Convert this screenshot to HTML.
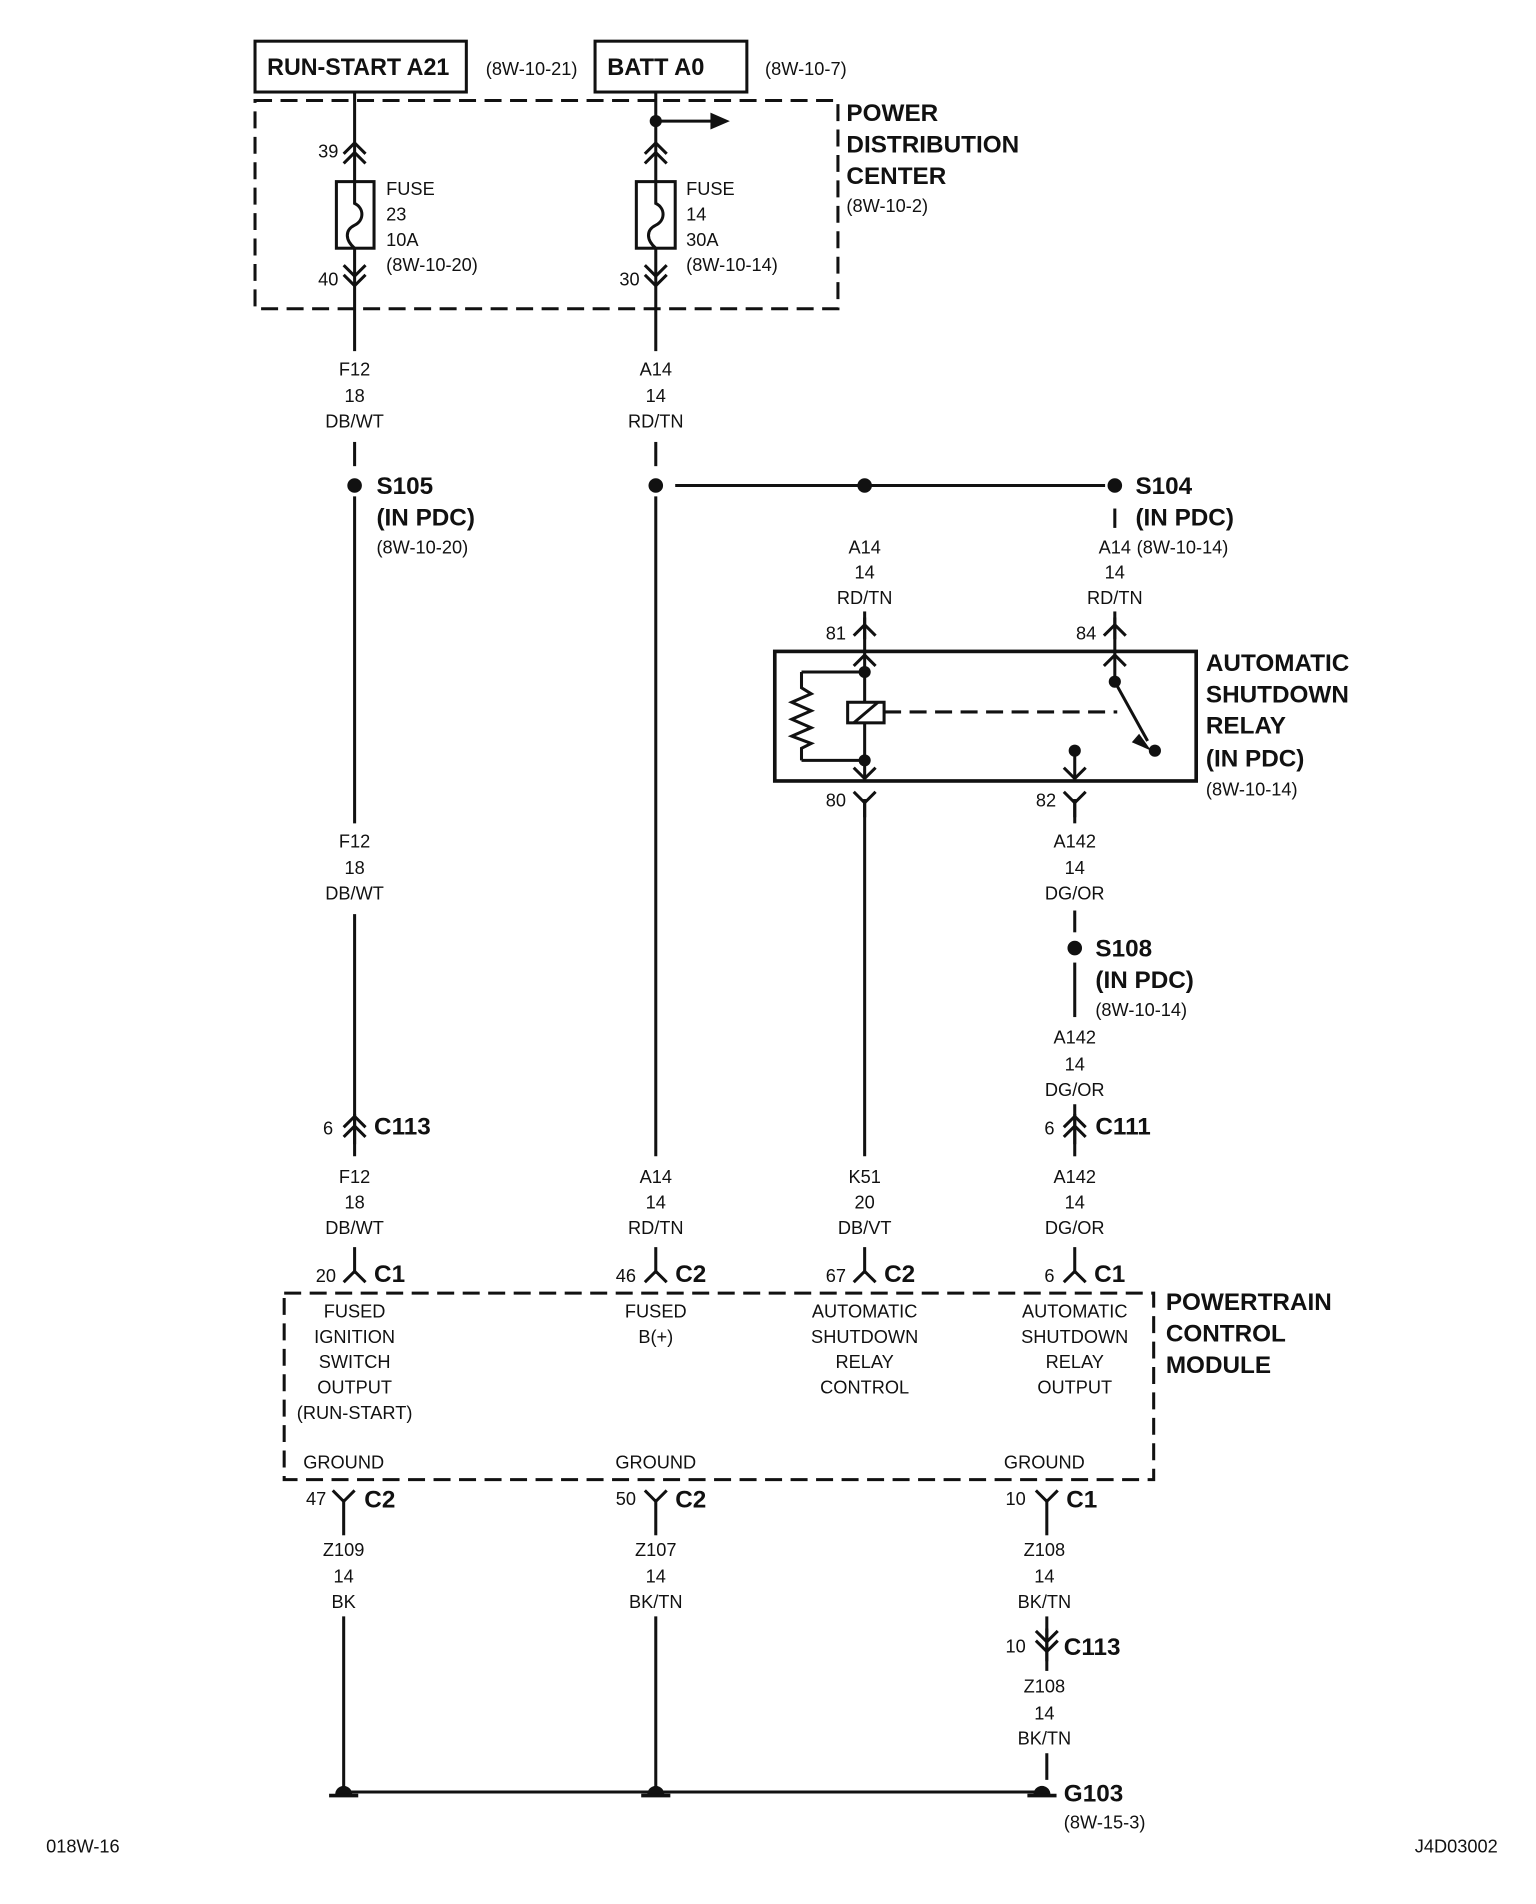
<!DOCTYPE html>
<html><head><meta charset="utf-8">
<style>
html,body{margin:0;padding:0;background:#fff;}
svg{display:block;}
text{font-family:"Liberation Sans",Arial,sans-serif;fill:#111;}
.s{font-size:15px;}
.b{font-size:20px;font-weight:bold;}
</style></head>
<body>
<svg width="1536" height="1904" viewBox="0 0 1280 1586.67" xmlns="http://www.w3.org/2000/svg">
<defs>
<g id="up"><path d="M-9 9 L0 0 L9 9" fill="none" stroke="#111" stroke-width="2.5"/></g>
<g id="dn"><path d="M-9 -9 L0 0 L9 -9" fill="none" stroke="#111" stroke-width="2.5"/></g>
<g id="gnd"><path d="M-7 0 A7 7 0 0 1 7 0 Z" fill="#111"/><line x1="-12" y1="1" x2="12" y2="1" stroke="#111" stroke-width="3"/></g>
</defs>
<g transform="scale(1.012,1.009)">
<g stroke="#111" stroke-width="2.5" fill="none">
<rect x="210" y="34" width="174" height="42"/>
<rect x="490" y="34" width="125" height="42"/>
<rect x="210" y="83" width="480" height="172" stroke-dasharray="14,7"/>
<line x1="292" y1="76" x2="292" y2="150"/>
<line x1="292" y1="205" x2="292" y2="290"/>
<rect x="277" y="150" width="31" height="55"/>
<path d="M292 150 L292 168 C300 172 300 182 292 186 C284 190 284 198 292 205"/>
<line x1="292" y1="365" x2="292" y2="385"/>
<line x1="292" y1="410" x2="292" y2="680"/>
<line x1="292" y1="755" x2="292" y2="955"/>
<line x1="292" y1="1030" x2="292" y2="1052"/>
<line x1="540" y1="76" x2="540" y2="150"/>
<line x1="540" y1="205" x2="540" y2="290"/>
<rect x="524" y="150" width="32" height="55"/>
<path d="M540 150 L540 168 C548 172 548 182 540 186 C532 190 532 198 540 205"/>
<line x1="540" y1="100" x2="590" y2="100"/>
<line x1="540" y1="365" x2="540" y2="385"/>
<line x1="540" y1="410" x2="540" y2="955"/>
<line x1="540" y1="1030" x2="540" y2="1052"/>
<line x1="556" y1="401" x2="910" y2="401"/>
<line x1="918" y1="420" x2="918" y2="436"/>
<line x1="712" y1="505" x2="712" y2="538"/>
<line x1="918" y1="505" x2="918" y2="538"/>
<rect x="638" y="538" width="347" height="107" stroke-width="3"/>
<line x1="712" y1="538" x2="712" y2="580"/>
<line x1="712" y1="597" x2="712" y2="645"/>
<rect x="698" y="580" width="30" height="17"/>
<line x1="703" y1="597" x2="723" y2="580"/>
<line x1="660" y1="555" x2="712" y2="555"/>
<line x1="660" y1="628" x2="712" y2="628"/>
<path d="M660 555 L660 568 L668 573 L652 580 L668 587 L652 594 L668 601 L652 608 L668 614 L660 618 L660 628"/>
<line x1="728" y1="588" x2="920" y2="588" stroke-dasharray="14,7"/>
<line x1="918" y1="538" x2="918" y2="563"/>
<line x1="918" y1="563" x2="945" y2="612"/>
<line x1="885" y1="620" x2="885" y2="645"/>
<line x1="712" y1="660" x2="712" y2="955"/>
<line x1="712" y1="1030" x2="712" y2="1052"/>
<line x1="885" y1="660" x2="885" y2="680"/>
<line x1="885" y1="752" x2="885" y2="770"/>
<line x1="885" y1="795" x2="885" y2="840"/>
<line x1="885" y1="912" x2="885" y2="955"/>
<line x1="885" y1="1030" x2="885" y2="1052"/>
<rect x="234" y="1068" width="716" height="154" stroke-dasharray="14,7"/>
<line x1="283" y1="1238" x2="283" y2="1268"/>
<line x1="540" y1="1238" x2="540" y2="1268"/>
<line x1="862" y1="1238" x2="862" y2="1268"/>
<line x1="283" y1="1335" x2="283" y2="1480"/>
<line x1="540" y1="1335" x2="540" y2="1480"/>
<line x1="862" y1="1335" x2="862" y2="1380"/>
<line x1="862" y1="1448" x2="862" y2="1470"/>
<line x1="283" y1="1480" x2="858" y2="1480"/>
</g>
<use href="#gnd" x="283" y="1482"/>
<use href="#gnd" x="540" y="1482"/>
<use href="#gnd" x="858" y="1482"/>
<path d="M585 93 L601 100 L585 107 Z" fill="#111"/>
<path d="M938 606 L948 620 L932 613 Z" fill="#111"/>
<g fill="#111">
<circle cx="540" cy="100" r="5"/>
<circle cx="292" cy="401" r="6"/><circle cx="540" cy="401" r="6"/>
<circle cx="712" cy="401" r="6"/><circle cx="918" cy="401" r="6"/>
<circle cx="712" cy="555" r="5"/><circle cx="712" cy="628" r="5"/>
<circle cx="918" cy="563" r="5"/><circle cx="951" cy="620" r="5"/>
<circle cx="885" cy="620" r="5"/>
<circle cx="885" cy="783" r="6"/>
</g>
<use href="#up" x="292" y="118"/><use href="#up" x="292" y="126"/>
<use href="#dn" x="292" y="228"/><use href="#dn" x="292" y="236"/>
<use href="#up" x="540" y="118"/><use href="#up" x="540" y="126"/>
<use href="#dn" x="540" y="228"/><use href="#dn" x="540" y="236"/>
<use href="#up" x="712" y="516"/><use href="#up" x="918" y="516"/>
<use href="#up" x="712" y="541"/><use href="#up" x="918" y="541"/>
<use href="#dn" x="712" y="643"/><use href="#dn" x="885" y="643"/>
<use href="#dn" x="712" y="663"/><use href="#dn" x="885" y="663"/>
<use href="#up" x="292" y="922"/><use href="#up" x="292" y="930"/>
<use href="#up" x="885" y="922"/><use href="#up" x="885" y="930"/>
<use href="#up" x="292" y="1050"/><use href="#up" x="540" y="1050"/>
<use href="#up" x="712" y="1050"/><use href="#up" x="885" y="1050"/>
<use href="#dn" x="283" y="1240"/><use href="#dn" x="540" y="1240"/><use href="#dn" x="862" y="1240"/>
<use href="#dn" x="862" y="1356"/><use href="#dn" x="862" y="1364"/>
<g stroke="#111" stroke-width="2.5">
<line x1="712" y1="510" x2="712" y2="528"/><line x1="918" y1="510" x2="918" y2="528"/>
<line x1="712" y1="660" x2="712" y2="675"/><line x1="885" y1="660" x2="885" y2="675"/>
<line x1="292" y1="920" x2="292" y2="945"/><line x1="885" y1="920" x2="885" y2="945"/>
<line x1="862" y1="1345" x2="862" y2="1372"/>
</g>
<text class="b" x="220" y="62" textLength="150" lengthAdjust="spacingAndGlyphs">RUN-START A21</text>
<text class="b" x="500" y="62" textLength="80" lengthAdjust="spacingAndGlyphs">BATT A0</text>
<text class="b" x="697" y="100">POWER</text>
<text class="b" x="697" y="126">DISTRIBUTION</text>
<text class="b" x="697" y="152">CENTER</text>
<text class="b" x="310" y="408">S105</text>
<text class="b" x="310" y="434">(IN PDC)</text>
<text class="b" x="935" y="408">S104</text>
<text class="b" x="935" y="434">(IN PDC)</text>
<text class="b" x="993" y="554">AUTOMATIC</text>
<text class="b" x="993" y="580">SHUTDOWN</text>
<text class="b" x="993" y="606">RELAY</text>
<text class="b" x="993" y="633">(IN PDC)</text>
<text class="b" x="902" y="790">S108</text>
<text class="b" x="902" y="816">(IN PDC)</text>
<text class="b" x="308" y="937">C113</text>
<text class="b" x="902" y="937">C111</text>
<text class="b" x="308" y="1059">C1</text>
<text class="b" x="556" y="1059">C2</text>
<text class="b" x="728" y="1059">C2</text>
<text class="b" x="901" y="1059">C1</text>
<text class="b" x="960" y="1082">POWERTRAIN</text>
<text class="b" x="960" y="1108">CONTROL</text>
<text class="b" x="960" y="1134">MODULE</text>
<text class="b" x="300" y="1245">C2</text>
<text class="b" x="556" y="1245">C2</text>
<text class="b" x="878" y="1245">C1</text>
<text class="b" x="876" y="1367">C113</text>
<text class="b" x="876" y="1488">G103</text>
<g class="s">
<text x="400" y="62">(8W-10-21)</text>
<text x="630" y="62">(8W-10-7)</text>
<text x="697" y="175">(8W-10-2)</text>
<text x="262" y="130">39</text><text x="262" y="236">40</text>
<text x="510" y="236">30</text>
<text x="318" y="161">FUSE</text><text x="318" y="182">23</text><text x="318" y="203">10A</text><text x="318" y="224">(8W-10-20)</text>
<text x="565" y="161">FUSE</text><text x="565" y="182">14</text><text x="565" y="203">30A</text><text x="565" y="224">(8W-10-14)</text>
</g>
<g class="s" text-anchor="middle">
<text x="292" y="310">F12</text><text x="292" y="332">18</text><text x="292" y="353">DB/WT</text>
<text x="540" y="310">A14</text><text x="540" y="332">14</text><text x="540" y="353">RD/TN</text>
<text x="712" y="457">A14</text><text x="712" y="478">14</text><text x="712" y="499">RD/TN</text>
<text x="918" y="457">A14</text><text x="918" y="478">14</text><text x="918" y="499">RD/TN</text>
<text x="292" y="700">F12</text><text x="292" y="722">18</text><text x="292" y="743">DB/WT</text>
<text x="885" y="700">A142</text><text x="885" y="722">14</text><text x="885" y="743">DG/OR</text>
<text x="885" y="862">A142</text><text x="885" y="884">14</text><text x="885" y="905">DG/OR</text>
<text x="292" y="977">F12</text><text x="292" y="998">18</text><text x="292" y="1019">DB/WT</text>
<text x="540" y="977">A14</text><text x="540" y="998">14</text><text x="540" y="1019">RD/TN</text>
<text x="712" y="977">K51</text><text x="712" y="998">20</text><text x="712" y="1019">DB/VT</text>
<text x="885" y="977">A142</text><text x="885" y="998">14</text><text x="885" y="1019">DG/OR</text>
<text x="292" y="1088">FUSED</text><text x="292" y="1109">IGNITION</text><text x="292" y="1130">SWITCH</text><text x="292" y="1151">OUTPUT</text><text x="292" y="1172">(RUN-START)</text>
<text x="540" y="1088">FUSED</text><text x="540" y="1109">B(+)</text>
<text x="712" y="1088">AUTOMATIC</text><text x="712" y="1109">SHUTDOWN</text><text x="712" y="1130">RELAY</text><text x="712" y="1151">CONTROL</text>
<text x="885" y="1088">AUTOMATIC</text><text x="885" y="1109">SHUTDOWN</text><text x="885" y="1130">RELAY</text><text x="885" y="1151">OUTPUT</text>
<text x="283" y="1213">GROUND</text><text x="540" y="1213">GROUND</text><text x="860" y="1213">GROUND</text>
<text x="283" y="1285">Z109</text><text x="283" y="1307">14</text><text x="283" y="1328">BK</text>
<text x="540" y="1285">Z107</text><text x="540" y="1307">14</text><text x="540" y="1328">BK/TN</text>
<text x="860" y="1285">Z108</text><text x="860" y="1307">14</text><text x="860" y="1328">BK/TN</text>
<text x="860" y="1398">Z108</text><text x="860" y="1420">14</text><text x="860" y="1441">BK/TN</text>
</g>
<g class="s">
<text x="310" y="457">(8W-10-20)</text>
<text x="936" y="457">(8W-10-14)</text>
<text x="993" y="657">(8W-10-14)</text>
<text x="902" y="839">(8W-10-14)</text>
<text x="680" y="528">81</text><text x="886" y="528">84</text>
<text x="680" y="666">80</text><text x="853" y="666">82</text>
<text x="266" y="937">6</text><text x="860" y="937">6</text>
<text x="260" y="1059">20</text><text x="507" y="1059">46</text><text x="680" y="1059">67</text><text x="860" y="1059">6</text>
<text x="252" y="1243">47</text><text x="507" y="1243">50</text><text x="828" y="1243">10</text>
<text x="828" y="1365">10</text>
<text x="876" y="1510">(8W-15-3)</text>
<text x="38" y="1530">018W-16</text>
<text x="1165" y="1530">J4D03002</text>
</g>
</g>
</svg>
</body></html>
